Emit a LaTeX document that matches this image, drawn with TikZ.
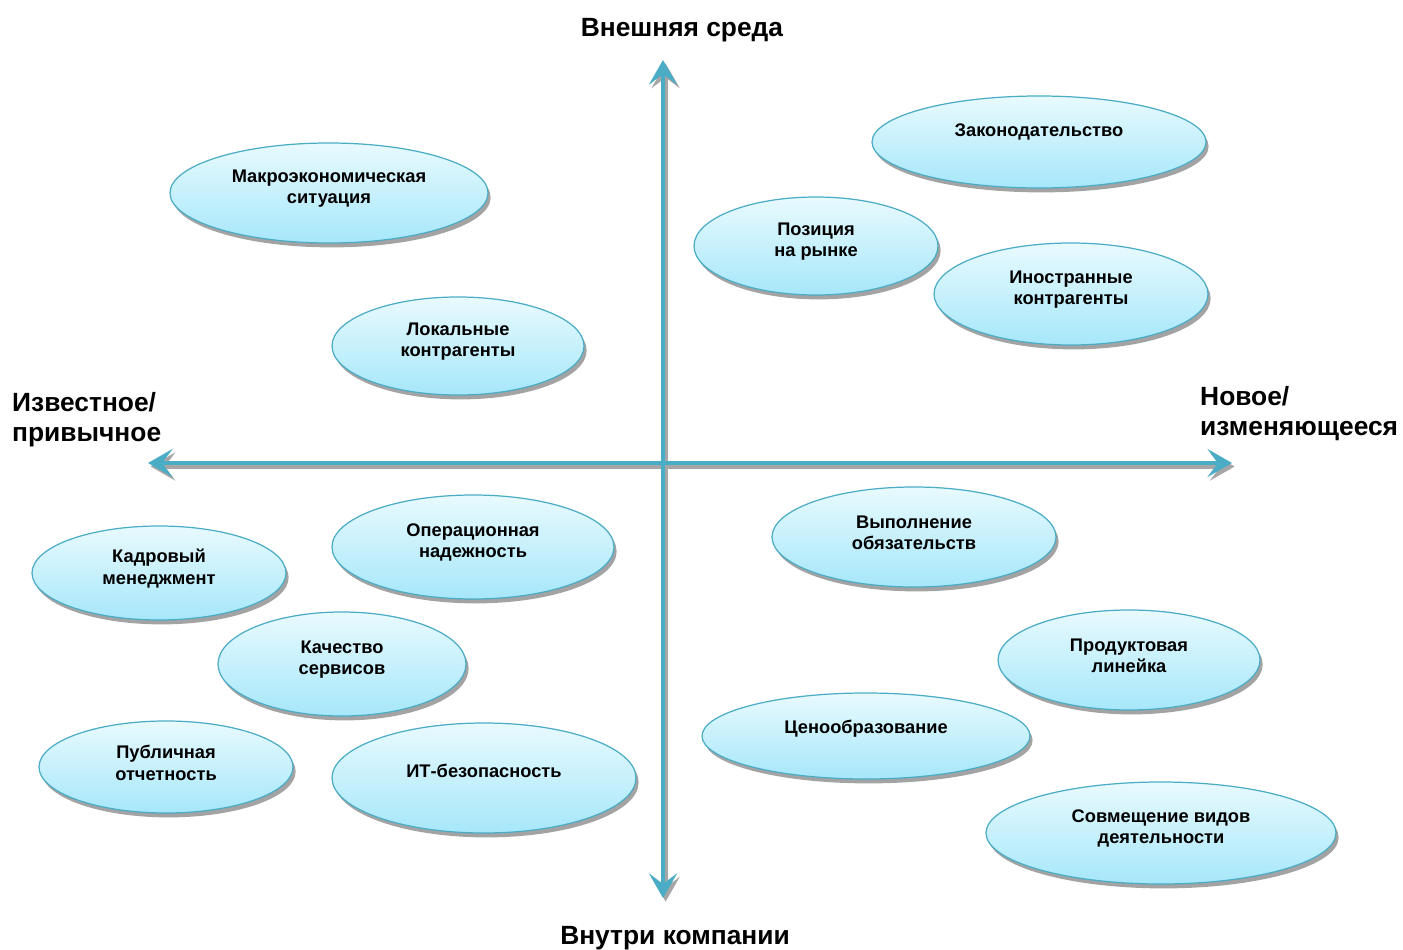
\documentclass[tikz,border=0pt]{standalone}
\usepackage{fontspec}
\setmainfont{Liberation Sans}
\usepackage{tikz}
\usetikzlibrary{shapes.geometric,shadows,arrows.meta}
\definecolor{axisblue}{HTML}{4BACC6}
\definecolor{bubtop}{HTML}{E8FAFE}
\definecolor{bubbot}{HTML}{A6E7FA}

\begin{document}
\begin{tikzpicture}
    [
    bubble/.style = {ellipse,draw=axisblue,line width=0.7pt,top color=bubtop,bottom color=bubbot,inner sep=0pt,
                     drop shadow={shadow xshift=1.5pt,shadow yshift=-2.5pt,fill=black!45,opacity=.8}},
    bubtext/.style = {font=\bfseries\fontsize{10.4}{12.3}\selectfont,align=center,yshift=2.5pt},
    axisarrow/.style = {line width=2.8pt,axisblue,{Stealth[length=14pt,width=16pt,inset=6pt]}-{Stealth[length=14pt,width=16pt,inset=6pt]}},
    axisshadow/.style = {line width=2.8pt,black!35,{Stealth[length=14pt,width=16pt,inset=6pt]}-{Stealth[length=14pt,width=16pt,inset=6pt]}},
    axislabel/.style = {font=\bfseries\fontsize{15}{17}\selectfont}
    ]
\useasboundingbox (0,0) rectangle (28.06,18.98);

\coordinate (top) at (13.26,17.78);
\coordinate (bot) at (13.26,1.02);
\coordinate (lft) at (2.96,9.72);
\coordinate (rgt) at (24.64,9.72);

% axes with their shadow
\draw[axisshadow,transform canvas={xshift=1.5pt,yshift=-2pt}] (bot) -- (top);
\draw[axisshadow,transform canvas={xshift=1.5pt,yshift=-2pt}] (lft) -- (rgt);
\draw[axisarrow] (bot) -- (top);
\draw[axisarrow] (lft) -- (rgt);

\node[axislabel] (extern) at (13.64,18.38) {Внешняя среда};
\node[axislabel] (intern) at (13.5,0.22) {Внутри компании};
\node[axislabel,anchor=west,align=left] (known) at (0.12,10.58) {Известное/\\привычное};
\node[axislabel,anchor=west,align=left] (newch) at (23.88,10.70) {Новое/\\изменяющееся};

% upper left
\node[bubble,minimum width=6.36cm,minimum height=2.0cm,label={[bubtext]center:{Макроэкономическая\\ситуация}}] (makro) at (6.58,15.12) {};
\node[bubble,minimum width=5.04cm,minimum height=1.96cm,label={[bubtext]center:{Локальные\\контрагенты}}] (lokal) at (9.16,12.06) {};

% upper right
\node[bubble,minimum width=6.68cm,minimum height=1.84cm,label={[bubtext,yshift=3pt]center:{Законодательство}}] (zakon) at (20.78,16.14) {};
\node[bubble,minimum width=4.88cm,minimum height=1.96cm,label={[bubtext]center:{Позиция\\на рынке}}] (pozic) at (16.32,14.06) {};
\node[bubble,minimum width=5.48cm,minimum height=2.04cm,label={[bubtext]center:{Иностранные\\контрагенты}}] (inostr) at (21.42,13.10) {};

% lower left
\node[bubble,minimum width=5.08cm,minimum height=1.88cm,label={[bubtext]center:{Кадровый\\менеджмент}}] (kadr) at (3.18,7.52) {};
\node[bubble,minimum width=5.64cm,minimum height=2.08cm,label={[bubtext]center:{Операционная\\надежность}}] (oper) at (9.46,8.04) {};
\node[bubble,minimum width=4.96cm,minimum height=2.08cm,label={[bubtext]center:{Качество\\сервисов}}] (kach) at (6.84,5.70) {};
\node[bubble,minimum width=5.08cm,minimum height=1.84cm,label={[bubtext]center:{Публичная\\отчетность}}] (publ) at (3.32,3.64) {};
\node[bubble,minimum width=6.08cm,minimum height=2.2cm,label={[bubtext,yshift=1.5pt]center:{ИТ-безопасность}}] (itbez) at (9.68,3.42) {};

% lower right
\node[bubble,minimum width=5.68cm,minimum height=2.0cm,label={[bubtext]center:{Выполнение\\обязательств}}] (vypol) at (18.28,8.24) {};
\node[bubble,minimum width=5.24cm,minimum height=2.0cm,label={[bubtext]center:{Продуктовая\\линейка}}] (prod) at (22.58,5.78) {};
\node[bubble,minimum width=6.56cm,minimum height=1.72cm,label={[bubtext,yshift=1.5pt]center:{Ценообразование}}] (cena) at (17.32,4.26) {};
\node[bubble,minimum width=7.0cm,minimum height=2.04cm,label={[bubtext]center:{Совмещение видов\\деятельности}}] (sovm) at (23.22,2.32) {};

\end{tikzpicture}
\end{document}
